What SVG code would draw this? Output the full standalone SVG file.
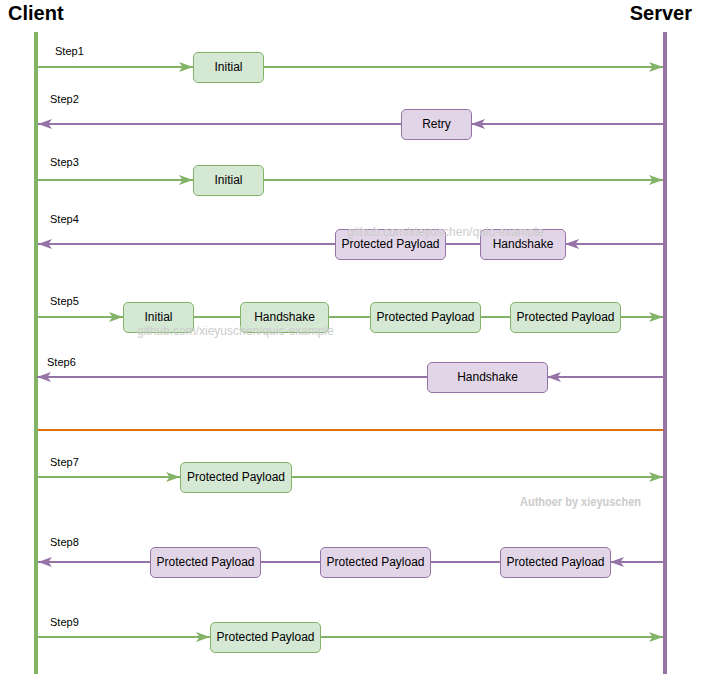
<svg xmlns="http://www.w3.org/2000/svg" width="701" height="674" viewBox="0 0 701 674">
<style>
text{font-family:"Liberation Sans",Arial,Helvetica,sans-serif;}
.title{font-size:20px;font-weight:bold;fill:#000;}
.step{font-size:11px;fill:#000;}
.lbl{font-size:12px;fill:#000;text-anchor:middle;dominant-baseline:central;}
.g rect{fill:#d5e8d4;stroke:#82b366;stroke-width:1;}
.p rect{fill:#e1d5e7;stroke:#9673a6;stroke-width:1;}
.ag{stroke:#82b366;stroke-width:2;fill:none;}
.ap{stroke:#9673a6;stroke-width:2;fill:none;}
.wm{font-size:12px;fill:#cccccc;}
</style>
<defs>
<marker id="mg" markerUnits="userSpaceOnUse" markerWidth="14" markerHeight="10" refX="14" refY="5" orient="auto">
<path d="M0,0 L14,5 L0,10 L3.5,5 Z" fill="#82b366"/>
</marker>
<marker id="mp" markerUnits="userSpaceOnUse" markerWidth="14" markerHeight="10" refX="14" refY="5" orient="auto">
<path d="M0,0 L14,5 L0,10 L3.5,5 Z" fill="#9673a6"/>
</marker>
</defs>
<g id="lifelines">
<text class="title" x="8" y="20">Client</text>
<text class="title" x="692" y="20" text-anchor="end">Server</text>
<line x1="36" y1="32" x2="36" y2="674" stroke="#82b366" stroke-width="4"/>
<line x1="665" y1="32" x2="665" y2="674" stroke="#9673a6" stroke-width="4"/>
</g>
<g id="connectors">
<line class="ag" x1="38" y1="67" x2="193" y2="67" marker-end="url(#mg)"/>
<line class="ag" x1="263" y1="67" x2="663" y2="67" marker-end="url(#mg)"/>
<line class="ap" x1="663" y1="124" x2="471" y2="124" marker-end="url(#mp)"/>
<line class="ap" x1="401" y1="124" x2="38" y2="124" marker-end="url(#mp)"/>
<line class="ag" x1="38" y1="180" x2="193" y2="180" marker-end="url(#mg)"/>
<line class="ag" x1="263" y1="180" x2="663" y2="180" marker-end="url(#mg)"/>
<line class="ap" x1="663" y1="244" x2="565" y2="244" marker-end="url(#mp)"/>
<line class="ap" x1="480" y1="244" x2="445" y2="244"/>
<line class="ap" x1="335" y1="244" x2="38" y2="244" marker-end="url(#mp)"/>
<line class="ag" x1="38" y1="317" x2="123" y2="317" marker-end="url(#mg)"/>
<line class="ag" x1="193" y1="317" x2="240" y2="317"/>
<line class="ag" x1="328" y1="317" x2="370" y2="317"/>
<line class="ag" x1="480" y1="317" x2="510" y2="317"/>
<line class="ag" x1="620" y1="317" x2="663" y2="317" marker-end="url(#mg)"/>
<line class="ap" x1="663" y1="377" x2="547" y2="377" marker-end="url(#mp)"/>
<line class="ap" x1="427" y1="377" x2="37" y2="377" marker-end="url(#mp)"/>
<line x1="38" y1="430" x2="663" y2="430" stroke="#e07010" stroke-width="2"/>
<line class="ag" x1="38" y1="477" x2="180" y2="477" marker-end="url(#mg)"/>
<line class="ag" x1="291" y1="477" x2="663" y2="477" marker-end="url(#mg)"/>
<line class="ap" x1="663" y1="562" x2="610" y2="562" marker-end="url(#mp)"/>
<line class="ap" x1="500" y1="562" x2="430" y2="562"/>
<line class="ap" x1="320" y1="562" x2="260" y2="562"/>
<line class="ap" x1="150" y1="562" x2="38" y2="562" marker-end="url(#mp)"/>
<line class="ag" x1="38" y1="637" x2="210" y2="637" marker-end="url(#mg)"/>
<line class="ag" x1="320" y1="637" x2="663" y2="637" marker-end="url(#mg)"/>
</g>
<g id="steps">
<text class="step" x="55" y="55">Step1</text>
<text class="step" x="50" y="103">Step2</text>
<text class="step" x="50" y="166">Step3</text>
<text class="step" x="50" y="223">Step4</text>
<text class="step" x="50" y="305">Step5</text>
<text class="step" x="47" y="366">Step6</text>
<text class="step" x="50" y="466">Step7</text>
<text class="step" x="50" y="546">Step8</text>
<text class="step" x="50" y="626">Step9</text>
</g>
<g id="s1-initial" class="g"><rect x="193.5" y="52.5" width="70" height="30" rx="4.5"/><text class="lbl" x="228.5" y="67">Initial</text></g>
<g id="s2-retry" class="p"><rect x="401.5" y="109.5" width="70" height="30" rx="4.5"/><text class="lbl" x="436.5" y="124">Retry</text></g>
<g id="s3-initial" class="g"><rect x="193.5" y="165.5" width="70" height="30" rx="4.5"/><text class="lbl" x="228.5" y="180">Initial</text></g>
<g id="s4-payload" class="p"><rect x="335.5" y="229.5" width="110" height="30" rx="4.5"/><text class="lbl" x="390.5" y="244">Protected Payload</text></g>
<g id="s4-handshake" class="p"><rect x="480.5" y="229.5" width="85" height="30" rx="4.5"/><text class="lbl" x="523" y="244">Handshake</text></g>
<g id="s5-initial" class="g"><rect x="123.5" y="302.5" width="70" height="30" rx="4.5"/><text class="lbl" x="158.5" y="317">Initial</text></g>
<g id="s5-handshake" class="g"><rect x="240.5" y="302.5" width="88" height="30" rx="4.5"/><text class="lbl" x="284.5" y="317">Handshake</text></g>
<g id="s5-payload1" class="g"><rect x="370.5" y="302.5" width="110" height="30" rx="4.5"/><text class="lbl" x="425.5" y="317">Protected Payload</text></g>
<g id="s5-payload2" class="g"><rect x="510.5" y="302.5" width="110" height="30" rx="4.5"/><text class="lbl" x="565.5" y="317">Protected Payload</text></g>
<g id="s6-handshake" class="p"><rect x="427.5" y="362.5" width="120" height="30" rx="4.5"/><text class="lbl" x="487.5" y="377">Handshake</text></g>
<g id="s7-payload" class="g"><rect x="180.5" y="462.5" width="111" height="30" rx="4.5"/><text class="lbl" x="236" y="477">Protected Payload</text></g>
<g id="s8-payload1" class="p"><rect x="150.5" y="547.5" width="110" height="30" rx="4.5"/><text class="lbl" x="205.5" y="562">Protected Payload</text></g>
<g id="s8-payload2" class="p"><rect x="320.5" y="547.5" width="110" height="30" rx="4.5"/><text class="lbl" x="375.5" y="562">Protected Payload</text></g>
<g id="s8-payload3" class="p"><rect x="500.5" y="547.5" width="110" height="30" rx="4.5"/><text class="lbl" x="555.5" y="562">Protected Payload</text></g>
<g id="s9-payload" class="g"><rect x="210.5" y="622.5" width="110" height="30" rx="4.5"/><text class="lbl" x="265.5" y="637">Protected Payload</text></g>
<g id="watermarks">
<text class="wm" x="347" y="236">github.com/xieyuschen/quic-example</text>
<text class="wm" x="137" y="335">github.com/xieyuschen/quic-example</text>
<text class="wm" x="520" y="506" textLength="121" font-weight="bold" lengthAdjust="spacingAndGlyphs">Authoer by xieyuschen</text>
</g>
</svg>
